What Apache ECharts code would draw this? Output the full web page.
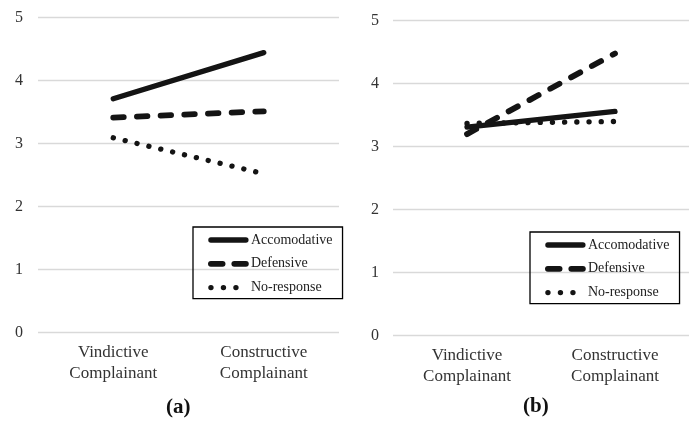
<!DOCTYPE html>
<html>
<head>
<meta charset="utf-8">
<script src="https://cdn.jsdelivr.net/npm/echarts@6/dist/echarts.min.js"></script>
<style>html,body{margin:0;padding:0;background:#fff;}#c{width:689px;height:425px;}</style>
</head>
<body>
<div id="c"></div>
<script>
const categories = ['Vindictive\nComplainant', 'Constructive\nComplainant'];
const seriesNames = ['Accomodative', 'Defensive', 'No-response'];
const yTicks = [0, 1, 2, 3, 4, 5];
// panel (a)
const aAccomodative = [3.71, 4.44];
const aDefensive = [3.41, 3.51];
const aNoResponse = [3.09, 2.52];
// panel (b)
const bAccomodative = [3.31, 3.56];
const bDefensive = [3.20, 4.48];
const bNoResponse = [3.37, 3.40];
const panelTitles = ['(a)', '(b)'];

const FONT = '"Liberation Serif", "Times New Roman", serif';
const LINE = '#141414';
const styles = [
  { width: 5.3, type: 'solid', legendType: 'solid' },
  { width: 5.8, type: [10.5, 13.2], legendType: [11.7, 11.7] },
  { width: 5.3, type: [0.1, 12.1], legendType: [0.1, 12.4] }
];

function xAxis(idx) {
  return {
    gridIndex: idx, type: 'category', data: categories, boundaryGap: true,
    axisLine: { show: false }, axisTick: { show: false },
    axisLabel: { fontFamily: FONT, fontSize: 17, lineHeight: 21, color: '#333', margin: 9 }
  };
}
function yAxis(idx, margin) {
  return {
    gridIndex: idx, type: 'value', min: yTicks[0], max: yTicks[yTicks.length - 1], interval: 1,
    axisLine: { show: false }, axisTick: { show: false },
    splitLine: { lineStyle: { color: '#d9d9d9', width: 1.3 } },
    axisLabel: { fontFamily: FONT, fontSize: 16, color: '#333', margin: margin }
  };
}
function mkSeries(idx, arrays) {
  return arrays.map((d, i) => ({
    name: seriesNames[i], type: 'line', xAxisIndex: idx, yAxisIndex: idx,
    data: d, symbol: 'none', silent: true, animation: false,
    lineStyle: { color: LINE, width: styles[i].width, type: styles[i].type, cap: 'round' },
    itemStyle: { color: LINE }
  }));
}
function legend(left, top) {
  return {
    left: left, top: top, orient: 'vertical',
    data: seriesNames.map((n, i) => ({
      name: n,
      lineStyle: { width: styles[i].width, type: styles[i].legendType, cap: 'round', color: LINE }
    })),
    itemWidth: 35, itemHeight: 14, itemGap: 9.8,
    padding: [6, 10, 4, 15],
    borderColor: '#000', borderWidth: 1.3,
    selectedMode: false,
    itemStyle: { color: 'rgba(0,0,0,0)', borderWidth: 0, opacity: 0 },
    textStyle: { fontFamily: FONT, fontSize: 14, color: '#222' }
  };
}

const chart = echarts.init(document.getElementById('c'));
chart.setOption({
  animation: false,
  title: [
    { text: panelTitles[0], left: 166, top: 397, padding: 0, textStyle: { fontFamily: FONT, fontSize: 21, fontWeight: 'bold', color: '#111' } },
    { text: panelTitles[1], left: 523, top: 396, padding: 0, textStyle: { fontFamily: FONT, fontSize: 21, fontWeight: 'bold', color: '#111' } }
  ],
  grid: [
    { left: 38, top: 17.3, width: 301, height: 315.4 },
    { left: 393, top: 20.7, width: 305, height: 315 }
  ],
  xAxis: [xAxis(0), xAxis(1)],
  yAxis: [yAxis(0, 15), yAxis(1, 14)],
  legend: [legend(193, 227), legend(530, 232)],
  series: mkSeries(0, [aAccomodative, aDefensive, aNoResponse])
    .concat(mkSeries(1, [bAccomodative, bDefensive, bNoResponse]))
});
</script>
</body>
</html>
